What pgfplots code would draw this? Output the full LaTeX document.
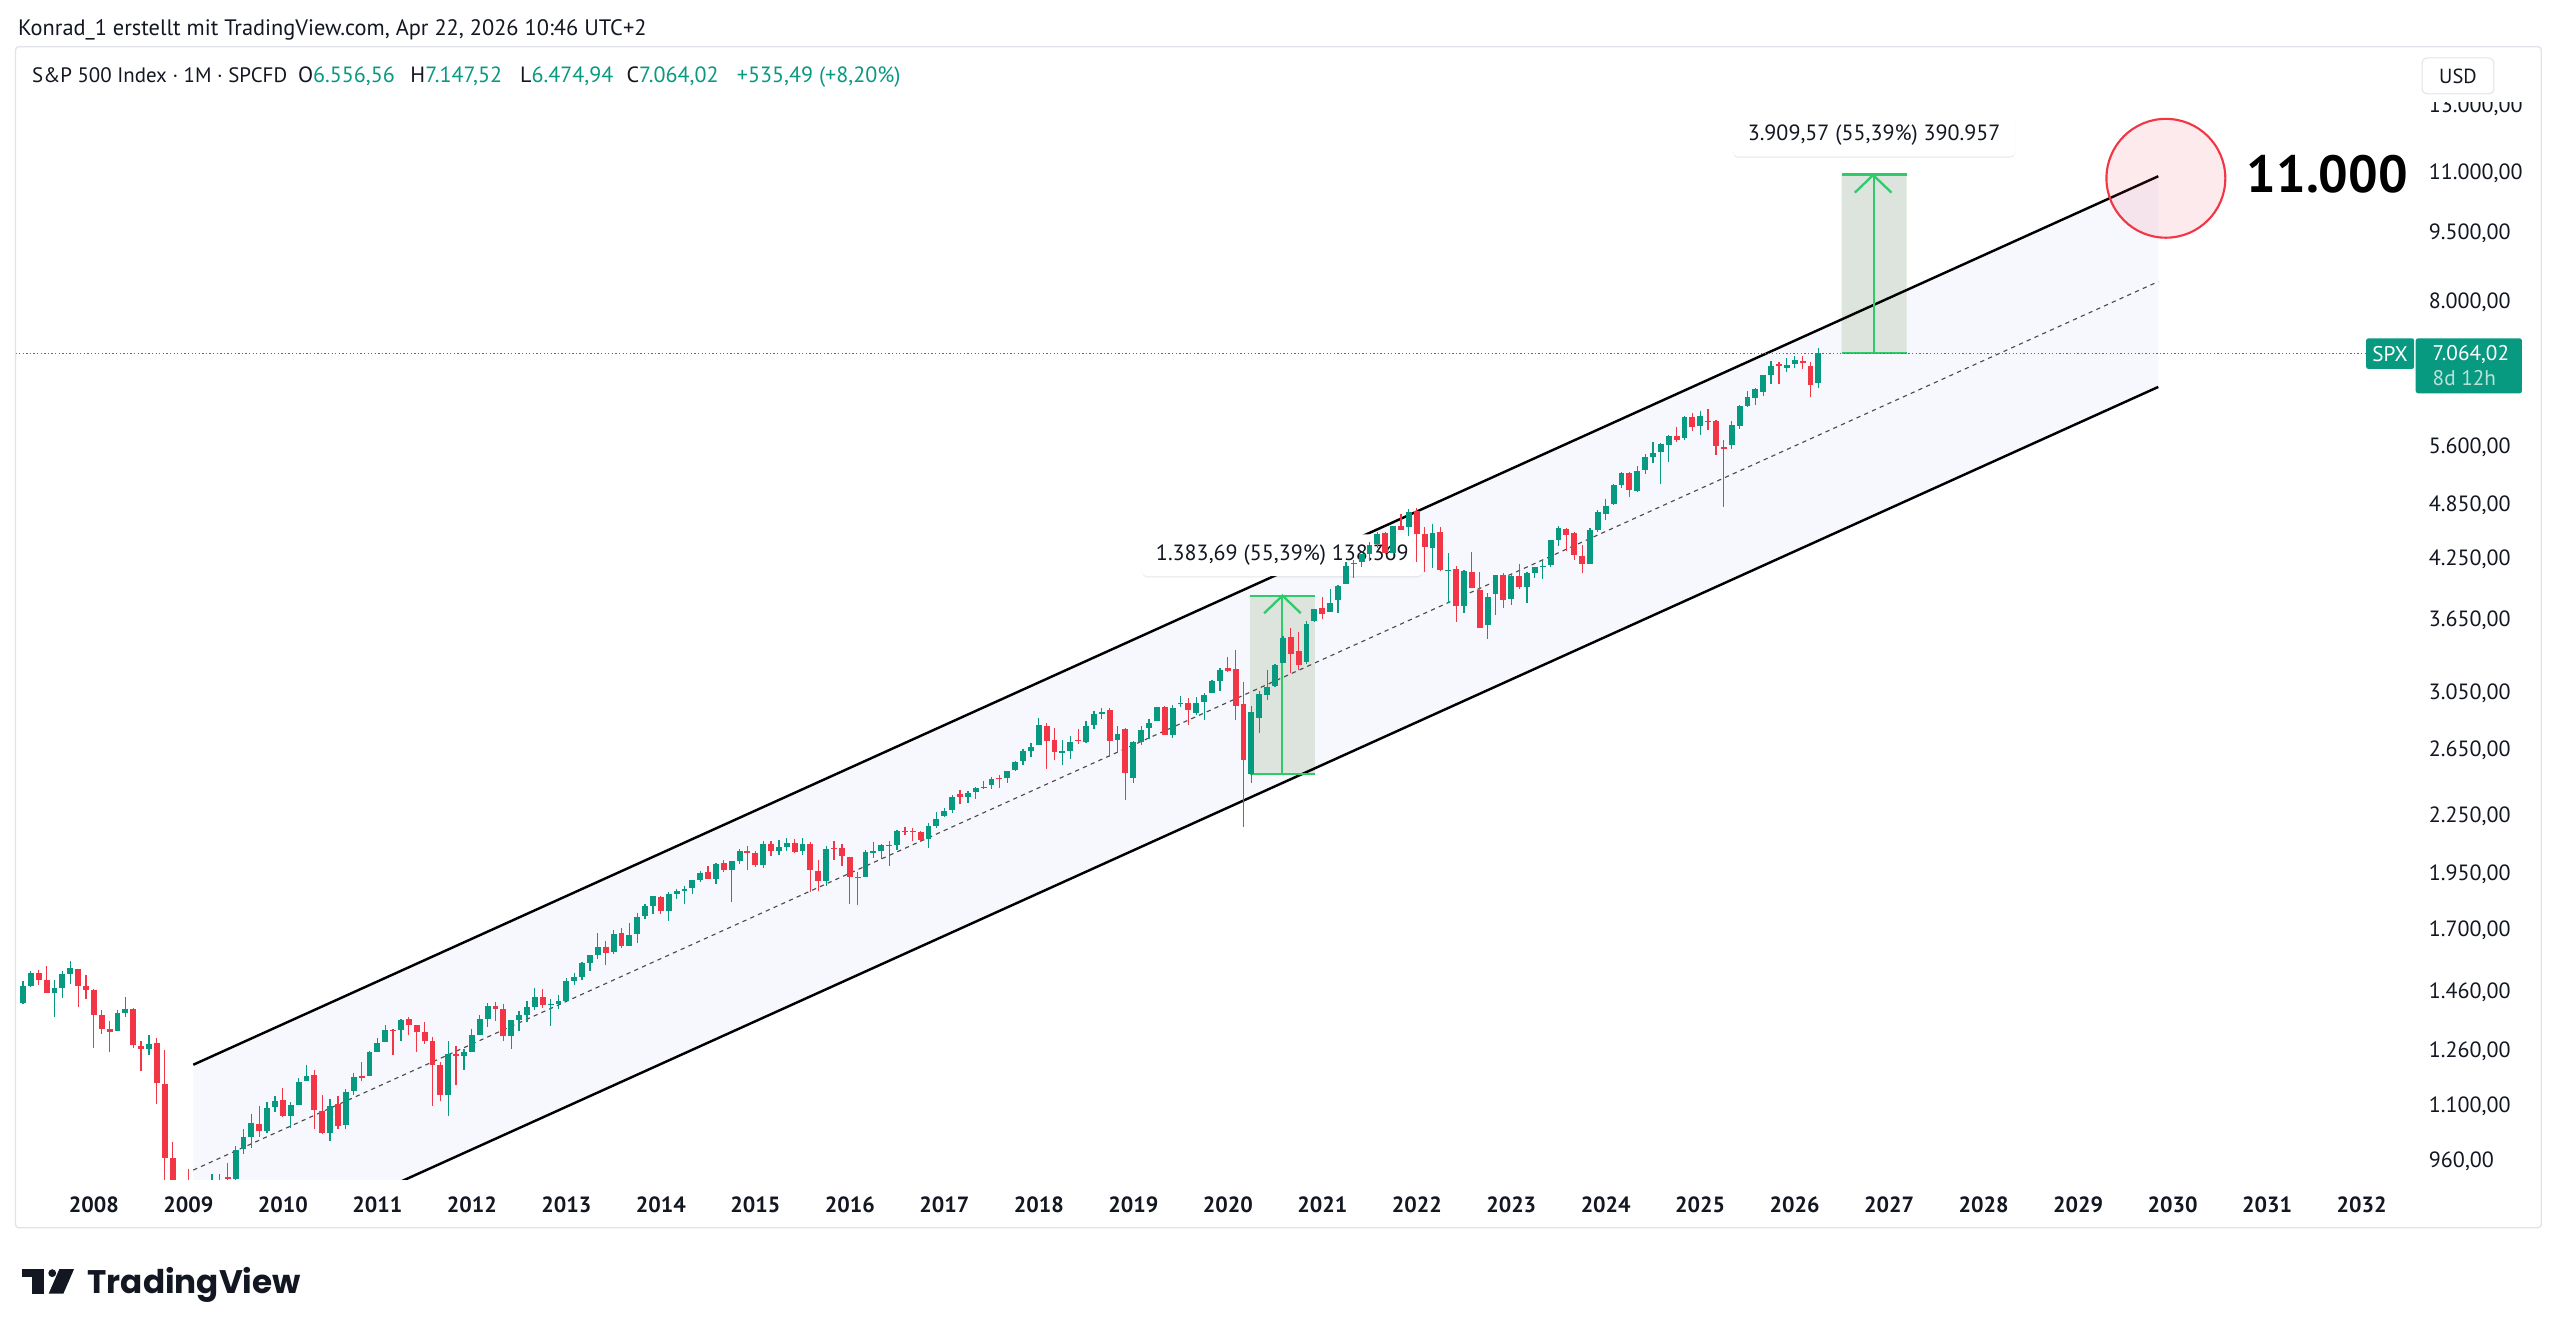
\documentclass[border=0pt]{standalone}
\usepackage{pgfplots}
\pgfplotsset{compat=1.18}
\usepackage{pgfplotstable}
\usetikzlibrary{shadows}
\usepackage{fontspec}
\setmainfont{PT Sans}
\newfontfamily\logofont{Poppins}
\newcommand\fs[1]{\fontsize{#1}{#1}\selectfont}
\definecolor{tvgreen}{HTML}{089981}
\definecolor{tvred}{HTML}{F23645}
\definecolor{tvtext}{HTML}{131722}
\definecolor{chanfill}{HTML}{F6F8FE}
\definecolor{boxfill}{HTML}{DCE4DD}
\definecolor{boxline}{HTML}{2FCB6B}
\definecolor{panegray}{HTML}{E0E3EB}
% vertical bar mark, length \barlen (pt) from the data point (negative = downward)
\pgfdeclareplotmark{candlebar}{%
  \pgfpathmoveto{\pgfqpoint{0pt}{0pt}}%
  \pgfpathlineto{\pgfpoint{0pt}{\barlen pt}}%
  \pgfusepathqstroke}

% monthly candles, t = months since Jan 2008
\pgfplotstableread{
t o h l c
-9 1420.8 1498.0 1416.4 1482.4
-8 1482.4 1535.6 1476.7 1530.6
-5 1455.2 1503.9 1370.6 1474.0
-4 1474.0 1538.7 1439.3 1526.8
-3 1527.3 1576.1 1489.6 1549.4
3 1326.4 1397.0 1324.4 1385.6
4 1386.0 1440.2 1373.1 1400.4
7 1269.4 1313.2 1248.6 1282.8
11 888.6 918.9 815.7 903.3
14 729.6 833.0 666.8 797.9
15 793.6 930.2 783.4 872.8
16 872.7 930.2 866.1 919.1
18 920.8 996.7 869.3 987.5
19 990.2 1039.5 978.5 1020.6
20 1019.5 1080.2 992.0 1057.1
22 1036.2 1113.7 1029.4 1095.6
23 1098.9 1130.4 1085.9 1115.1
25 1073.9 1112.4 1044.5 1104.5
26 1105.4 1180.7 1105.4 1169.4
27 1171.2 1219.8 1170.7 1186.7
30 1031.1 1121.0 1010.9 1101.6
32 1049.7 1148.9 1039.7 1141.2
33 1143.5 1196.1 1131.9 1183.3
35 1186.6 1262.6 1186.6 1257.6
36 1257.6 1302.7 1257.6 1286.1
37 1289.1 1344.1 1289.1 1327.2
39 1329.5 1364.6 1294.7 1363.6
45 1131.2 1292.7 1074.8 1253.3
47 1246.9 1269.4 1202.4 1257.6
48 1258.9 1333.5 1258.9 1312.4
49 1312.5 1378.0 1312.5 1365.7
50 1366.0 1419.2 1340.0 1408.5
53 1309.9 1363.5 1266.7 1362.2
54 1362.3 1391.7 1325.4 1379.3
55 1379.3 1426.7 1354.7 1406.6
56 1406.5 1474.5 1396.6 1440.7
58 1412.2 1434.3 1343.4 1416.2
59 1416.2 1448.0 1398.1 1426.2
60 1426.2 1509.9 1426.2 1498.1
61 1498.1 1530.9 1485.0 1514.7
62 1514.7 1570.3 1501.5 1569.2
63 1569.2 1597.6 1536.0 1597.6
64 1597.6 1687.2 1581.3 1630.7
66 1609.8 1698.8 1604.6 1685.7
68 1636.0 1729.9 1633.4 1681.6
69 1682.4 1775.2 1646.5 1756.5
70 1758.7 1813.6 1746.2 1805.8
71 1806.6 1849.4 1768.0 1848.4
73 1782.7 1867.9 1737.9 1859.5
74 1857.7 1884.0 1834.4 1872.3
75 1874.0 1897.3 1814.4 1884.0
76 1884.4 1924.0 1859.8 1923.6
77 1923.9 1968.2 1916.0 1960.2
79 1929.8 2005.0 1904.8 2003.4
81 1971.4 2018.2 1820.7 2018.1
82 2018.2 2075.8 2001.0 2067.6
85 1996.7 2119.6 1980.9 2104.5
87 2067.6 2125.9 2048.4 2085.5
88 2087.4 2134.7 2067.9 2107.4
90 2067.0 2132.8 2044.0 2103.8
93 1919.7 2094.3 1893.7 2079.4
98 1937.1 2072.2 1937.1 2059.7
99 2056.6 2111.1 2033.8 2065.3
100 2067.2 2103.5 2025.9 2097.0
101 2093.9 2120.6 1991.7 2098.9
102 2099.3 2177.1 2074.0 2173.6
106 2128.7 2214.1 2083.8 2198.8
107 2200.2 2277.5 2187.4 2238.8
108 2251.6 2301.0 2245.1 2278.9
109 2285.6 2371.5 2271.7 2363.6
111 2362.3 2398.2 2329.0 2384.2
112 2388.5 2418.7 2352.7 2411.8
113 2415.6 2453.8 2405.7 2423.4
114 2431.4 2484.0 2407.7 2470.3
116 2474.4 2519.4 2446.6 2519.4
117 2521.2 2583.0 2520.4 2575.3
118 2583.2 2657.7 2557.5 2647.6
119 2645.1 2695.0 2605.5 2673.6
120 2683.7 2872.9 2682.4 2823.8
123 2633.5 2717.5 2553.8 2648.1
124 2643.0 2742.2 2594.6 2705.3
126 2705.0 2848.0 2699.0 2816.3
127 2821.2 2916.5 2796.3 2901.5
128 2901.6 2940.9 2864.1 2914.0
130 2717.6 2815.2 2631.1 2760.2
132 2477.0 2709.0 2444.0 2704.1
133 2702.3 2813.5 2681.8 2784.5
134 2798.2 2860.3 2722.3 2834.4
135 2848.6 2949.5 2848.6 2945.8
137 2751.5 2964.2 2728.8 2941.8
138 2971.4 3028.0 2952.2 2980.4
140 2909.0 3022.0 2891.9 2976.7
141 2983.7 3050.1 2855.9 3037.6
142 3050.7 3154.3 3050.7 3141.0
143 3143.9 3247.9 3070.3 3230.8
147 2498.1 2954.9 2447.5 2912.4
148 2869.1 3068.7 2766.6 3044.3
149 3038.8 3233.1 2999.5 3100.3
150 3105.9 3280.0 3101.2 3271.1
151 3288.3 3514.8 3284.5 3500.3
154 3296.2 3646.0 3279.7 3621.6
155 3645.9 3760.2 3633.4 3756.1
157 3731.2 3950.4 3725.6 3811.2
158 3842.5 3983.9 3723.3 3972.9
159 3992.8 4218.8 3992.8 4181.2
160 4192.0 4238.0 4056.9 4204.1
161 4216.5 4302.4 4164.4 4297.5
162 4300.7 4430.0 4233.1 4395.3
163 4406.9 4537.4 4367.7 4522.7
165 4317.2 4608.1 4278.9 4605.4
167 4602.8 4808.9 4495.1 4766.2
170 4363.1 4637.3 4157.9 4530.4
172 4130.6 4307.7 3810.3 4132.2
174 3781.0 4140.2 3721.6 4130.3
177 3609.8 3905.4 3491.6 3872.0
178 3901.8 4080.1 3698.2 4080.1
180 3853.3 4094.2 3794.3 4076.6
182 3963.3 4110.8 3808.9 4109.3
183 4102.2 4170.1 4049.4 4169.5
184 4166.8 4231.1 4048.3 4179.8
185 4183.0 4458.5 4166.2 4450.4
186 4450.5 4607.1 4385.1 4589.0
190 4201.3 4587.6 4197.7 4567.8
191 4559.4 4793.3 4546.5 4769.8
192 4745.2 4931.1 4682.1 4845.7
193 4861.1 5111.1 4853.5 5096.3
194 5098.5 5264.9 5056.8 5254.4
196 5029.0 5341.9 5011.1 5277.5
197 5297.2 5505.5 5234.3 5460.5
198 5471.1 5669.7 5391.0 5522.3
199 5537.8 5651.6 5119.3 5648.4
200 5623.9 5767.4 5402.6 5762.5
202 5723.2 6053.6 5696.5 6032.4
204 5903.3 6128.2 5773.3 6040.5
208 5625.1 5968.6 5578.6 5911.7
209 5896.7 6215.1 5861.4 6205.0
210 6198.0 6427.0 6178.0 6339.4
211 6315.0 6481.3 6212.7 6460.3
212 6410.0 6699.5 6360.6 6688.5
213 6688.0 6920.0 6550.0 6845.0
215 6815.0 6970.0 6743.0 6858.0
216 6880.0 7015.0 6801.0 6942.0
219 6556.56 7147.52 6474.94 7064.02
}\upcandles

\pgfplotstableread{
t o h l c
-7 1530.6 1540.6 1484.2 1503.4
-6 1504.7 1555.9 1454.3 1455.3
-2 1545.8 1545.8 1406.1 1481.1
-1 1479.6 1523.6 1435.7 1468.4
0 1468.0 1471.8 1270.1 1378.6
1 1378.6 1396.0 1316.8 1330.6
2 1330.5 1359.7 1257.0 1322.7
5 1399.0 1404.1 1272.0 1280.0
6 1276.7 1292.2 1200.4 1267.4
8 1287.8 1303.0 1106.4 1166.4
9 1164.2 1264.3 839.8 968.8
10 968.7 1007.5 741.0 896.2
12 903.0 943.9 804.3 825.9
13 823.1 875.0 734.5 735.1
17 923.3 956.2 888.9 919.3
21 1054.9 1101.4 1020.2 1036.2
24 1116.6 1150.5 1071.6 1073.9
28 1188.6 1205.1 1040.8 1089.4
29 1087.3 1131.2 1028.3 1030.7
31 1107.5 1129.2 1039.7 1049.3
34 1185.7 1227.1 1173.0 1180.6
38 1328.6 1332.3 1249.1 1325.8
40 1365.2 1370.6 1311.8 1345.2
41 1345.2 1345.2 1258.1 1320.6
42 1320.6 1356.5 1282.9 1292.3
43 1292.6 1307.4 1101.5 1218.9
44 1219.1 1229.3 1114.2 1131.4
46 1251.0 1277.6 1158.7 1247.0
51 1408.5 1422.4 1357.4 1397.9
52 1397.9 1415.3 1292.0 1310.3
57 1440.9 1471.0 1403.3 1412.2
65 1631.7 1654.2 1560.3 1606.3
67 1689.4 1709.7 1627.5 1633.0
72 1845.9 1850.8 1770.5 1782.6
78 1962.3 1991.4 1930.7 1930.7
80 2004.1 2019.3 1964.0 1972.3
83 2065.8 2093.6 1972.6 2058.9
84 2058.9 2064.4 1988.4 1995.0
86 2105.2 2117.5 2039.7 2067.9
89 2108.6 2129.9 2056.3 2063.1
91 2104.5 2112.7 1867.0 1972.2
92 1970.1 2021.0 1871.9 1920.0
94 2080.8 2116.5 2019.4 2080.4
95 2082.9 2104.3 1993.3 2043.9
96 2038.2 2038.2 1812.3 1940.2
97 1936.9 1963.0 1810.1 1932.2
103 2173.2 2193.8 2147.6 2171.0
104 2171.3 2187.9 2119.1 2168.3
105 2164.3 2169.6 2114.7 2126.2
110 2380.1 2401.0 2322.3 2362.7
115 2477.1 2490.9 2417.4 2471.7
121 2816.5 2836.0 2532.7 2713.8
122 2715.2 2801.9 2586.3 2640.9
125 2718.7 2791.5 2692.0 2716.4
129 2926.3 2939.9 2603.5 2711.7
131 2790.5 2800.2 2346.6 2506.9
136 2952.3 2954.1 2750.5 2752.1
139 2980.3 3013.6 2822.1 2926.5
144 3244.7 3337.8 3214.6 3225.5
145 3235.7 3393.5 2855.8 2954.2
146 2974.3 3136.7 2191.9 2584.6
152 3507.4 3588.1 3209.5 3363.0
153 3385.9 3549.9 3233.9 3270.0
156 3764.6 3870.9 3662.7 3714.2
164 4528.8 4545.9 4305.9 4307.5
166 4610.6 4743.8 4560.0 4567.0
168 4778.1 4818.6 4222.6 4515.6
169 4519.6 4595.3 4114.7 4373.9
171 4540.3 4593.5 4124.3 4131.9
173 4149.8 4177.5 3636.9 3785.4
175 4112.4 4325.3 3954.5 3955.0
176 3936.7 4119.3 3584.1 3585.6
179 4087.1 4101.0 3764.5 3839.5
181 4070.1 4195.4 3943.1 3970.2
187 4578.8 4584.6 4335.3 4507.7
188 4530.6 4541.3 4238.6 4288.1
189 4284.5 4393.6 4103.8 4193.8
195 5258.0 5263.9 4953.6 5035.7
201 5757.7 5878.5 5674.0 5705.5
203 6040.1 6100.0 5832.3 5881.6
205 5969.7 6147.4 5837.7 5954.5
206 5968.3 5986.1 5488.7 5611.9
207 5597.5 5695.3 4835.0 5569.1
214 6880.0 6912.0 6540.0 6849.0
217 6932.0 7005.0 6789.0 6900.0
218 6850.0 6916.0 6339.0 6528.53
}\downcandles

\begin{document}
\begin{tikzpicture}[x=1pt,y=1pt]
\useasboundingbox (0,0) rectangle (1568,-818);
\fill[white] (0,0) rectangle (1568,-818);

\begin{axis}[
  at={(9.5pt,-722.3pt)}, anchor=south west,
  scale only axis, width=1469.5pt, height=693.7pt,
  xmin=-9.95, xmax=294.74,
  ymode=log, ymin=919.3, ymax=15048,
  axis line style={draw=none},
  tick style={draw=none}, major tick length=0pt,
  yminorticks=false, xminorticks=false,
  xtick={0,12,...,288},
  xticklabels={2008,2009,2010,2011,2012,2013,2014,2015,2016,2017,2018,2019,2020,2021,2022,2023,2024,2025,2026,2027,2028,2029,2030,2031,2032},
  xticklabel style={anchor=center, yshift=-15.7pt, inner sep=0pt, font=\bfseries\fs{13.5}, text=tvtext},
  ytick={960,1100,1260,1460,1700,1950,2250,2650,3050,3650,4250,4850,5600,8000,9500,11000,13000},
  yticklabels={{960,00},{1.100,00},{1.260,00},{1.460,00},{1.700,00},{1.950,00},{2.250,00},{2.650,00},{3.050,00},{3.650,00},{4.250,00},{4.850,00},{5.600,00},{8.000,00},{9.500,00},{11.000,00},{13.000,00}},
  yticklabel pos=right,
  yticklabel style={anchor=west, xshift=8.5pt, inner sep=0pt, font=\fs{13.5}, text=tvtext},
  clip=true, clip marker paths=true,
]
% regression channel fill
\addplot[draw=none, fill=chanfill, forget plot] coordinates {(12.63,1219.6) (262.17,10929) (262.17,6498) (12.63,725.1) (12.63,1219.6)};
% price range boxes
\addplot[draw=none, fill=boxfill, forget plot] coordinates {(146.8,2498.08) (155.07,2498.08) (155.07,3881.77) (146.8,3881.77) (146.8,2498.08)};
\addplot[draw=none, fill=boxfill, forget plot] coordinates {(221.96,7064.02) (230.21,7064.02) (230.21,10973.59) (221.96,10973.59) (221.96,7064.02)};
% channel lines
\addplot[black!70, line width=0.7pt, dash pattern=on 2.6pt off 2.6pt, forget plot] coordinates {(12.63,940.4) (262.17,8427)};
\addplot[black, line width=1.5pt, forget plot] coordinates {(12.63,1219.6) (262.17,10929)};
\addplot[black, line width=1.5pt, forget plot] coordinates {(12.63,725.1) (262.17,6498)};
% range box lines and arrows
\addplot[boxline, line width=1.4pt, forget plot] coordinates {(146.8,2498.08) (155.07,2498.08)};
\addplot[boxline, line width=1.4pt, forget plot] coordinates {(146.8,3881.77) (155.07,3881.77)};
\addplot[boxline, line width=1.4pt, forget plot] coordinates {(150.93,2498.08) (150.93,3881.77)};
\addplot[boxline, line width=1.4pt, forget plot] coordinates {(221.96,7064.02) (230.21,7064.02)};
\addplot[boxline, line width=1.4pt, forget plot] coordinates {(221.96,10973.59) (230.21,10973.59)};
\addplot[boxline, line width=1.4pt, forget plot] coordinates {(226.08,7064.02) (226.08,10973.59)};
% range labels (under the candles)
\node[fill=white, rounded corners=3pt, minimum width=172pt, minimum height=25.5pt, inner sep=0pt, text=tvtext, font=\fs{13.5},
  drop shadow={shadow xshift=0pt, shadow yshift=-1pt, opacity=0.12}, yshift=24.8pt]
  at (axis cs:150.93,3881.77) {1.383,69 (55,39\%) 138.369};
\node[fill=white, rounded corners=3pt, minimum width=172.7pt, minimum height=26pt, inner sep=0pt, text=tvtext, font=\fs{13.5},
  drop shadow={shadow xshift=0pt, shadow yshift=-1pt, opacity=0.12}, yshift=24.2pt]
  at (axis cs:226.08,10973.59) {3.909,57 (55,39\%) 390.957};
% candles: wicks, drawn down from the high (248.159 pt per ln unit of the log axis)
\addplot[only marks, mark=candlebar, color=tvgreen, mark options={solid, line width=0.75pt}, forget plot,
  visualization depends on={-248.159*ln(\thisrow{h}/\thisrow{l}) \as \barlen}]
  table[x=t, y=h] {\upcandles};
\addplot[only marks, mark=candlebar, color=tvred, mark options={solid, line width=0.75pt}, forget plot,
  visualization depends on={-248.159*ln(\thisrow{h}/\thisrow{l}) \as \barlen}]
  table[x=t, y=h] {\downcandles};
% candles: bodies, drawn down from the top of the body
\addplot[only marks, mark=candlebar, color=tvgreen, mark options={solid, line width=3.6pt}, forget plot,
  visualization depends on={-1*max(0.7,248.159*ln(\thisrow{c}/\thisrow{o})) \as \barlen}]
  table[x=t, y=c] {\upcandles};
\addplot[only marks, mark=candlebar, color=tvred, mark options={solid, line width=3.6pt}, forget plot,
  visualization depends on={-1*max(0.7,248.159*ln(\thisrow{o}/\thisrow{c})) \as \barlen}]
  table[x=t, y=o] {\downcandles};
% last price line
\addplot[tvgreen, line width=0.6pt, dash pattern=on 0.8pt off 1.4pt, forget plot] coordinates {(-9.95,7064.02) (294.74,7064.02)};
\end{axis}

% arrow heads of the range boxes (box tops at 3881.77 and 10973.59)
\draw[boxline, line width=1.4pt] (774.3,-375.6) -- (785.5,-364.8) -- (796.7,-375.6);
\draw[boxline, line width=1.4pt] (1136.1,-118.0) -- (1147.3,-107.2) -- (1158.5,-118.0);
% target circle
\draw[tvred, line width=1.3pt, fill=tvred, fill opacity=0.1] (1326.6,-109.2) circle[radius=36.4];

% header texts
\node[anchor=base west, inner sep=0pt, text=tvtext, font=\fs{13.7}] at (10.9,-21.5) {Konrad\_1 erstellt mit TradingView.com, Apr 22, 2026 10:46 UTC+2};
\node[anchor=base west, inner sep=0pt, text=tvtext, font=\fs{12.8}] at (19.5,-50.7) {S\&P 500 Index · 1M · SPCFD};
\node[anchor=base west, inner sep=0pt, text=tvtext, font=\fs{13.5}] at (182.4,-50.7) {O\textcolor{tvgreen}{6.556,56}};
\node[anchor=base west, inner sep=0pt, text=tvtext, font=\fs{13.5}] at (251.2,-50.7) {H\textcolor{tvgreen}{7.147,52}};
\node[anchor=base west, inner sep=0pt, text=tvtext, font=\fs{13.5}] at (318.4,-50.7) {L\textcolor{tvgreen}{6.474,94}};
\node[anchor=base west, inner sep=0pt, text=tvtext, font=\fs{13.5}] at (383.6,-50.7) {C\textcolor{tvgreen}{7.064,02}};
\node[anchor=base west, inner sep=0pt, text=tvgreen, font=\fs{13.5}] at (451.2,-50.7) {+535,49 (+8,20\%)};

% price scale top cover and USD button
\fill[white] (1480,-29.3) rectangle (1555.8,-62.5);
\draw[panegray, fill=white, rounded corners=3pt, line width=0.6pt] (1483.5,-35.5) rectangle (1527.5,-57.5);
\node[text=tvtext, font=\fs{12.5}] at (1505.5,-46.5) {USD};

% last price labels
\fill[tvgreen, rounded corners=1.5pt] (1449.2,-207.2) rectangle (1478.7,-226);
\node[text=white, font=\fs{13}] at (1463.9,-216.6) {SPX};
\fill[tvgreen, rounded corners=1.5pt] (1479.6,-207.2) rectangle (1544.7,-240.9);
\node[anchor=base west, inner sep=0pt, text=white, font=\fs{13}] at (1489.8,-220.6) {7.064,02};
\node[anchor=base west, inner sep=0pt, text=white, text opacity=0.72, font=\fs{13}] at (1489.8,-236.3) {8d 12h};

% target text
\node[text=black, font=\bfseries\fs{32}] at (1425.5,-106.8) {11.000};

% pane border
\draw[panegray, line width=0.8pt, rounded corners=2pt] (9.5,-28.6) rectangle (1556.5,-752);

% TradingView logo
\fill[tvtext] (13.3,-777.4) rectangle (27.2,-782.2);
\fill[tvtext] (19.8,-777.4) rectangle (27.2,-792.4);
\fill[tvtext] (32.0,-779.8) circle[radius=2.4];
\fill[tvtext] (36.3,-777.4) -- (45.3,-777.4) -- (38.8,-792.4) -- (29.8,-792.4) -- cycle;
\node[anchor=base west, inner sep=0pt, text=tvtext, font=\logofont\bfseries\fs{20}] at (53.5,-792.2) {TradingView};
\end{tikzpicture}
\end{document}
